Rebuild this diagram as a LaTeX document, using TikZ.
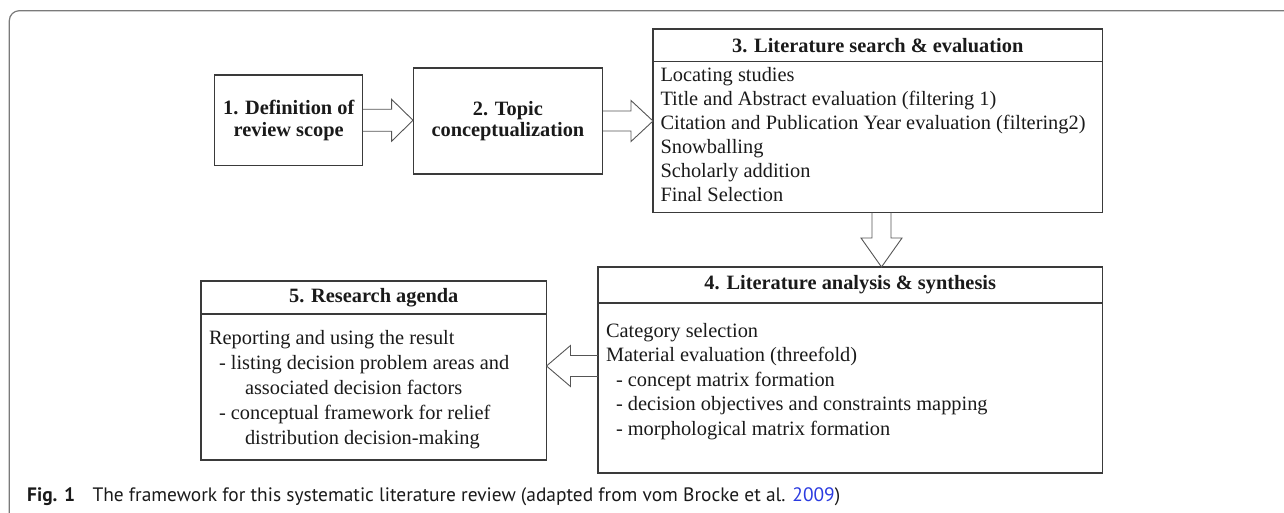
\documentclass[tikz,border=0pt]{standalone}
\usepackage{fontspec}
\setmainfont{Liberation Serif}
\newfontfamily\capfont{PT Sans}
\usetikzlibrary{calc}

\definecolor{boxline}{HTML}{3A3A3A}
\definecolor{inktext}{HTML}{1A1A1A}
\definecolor{arrowline}{HTML}{555555}
\definecolor{framegray}{HTML}{7A7A7A}
\definecolor{linkblue}{HTML}{2B3BE0}

% hollow block arrow: start, tip, shaft half-width, head half-width, head length
\newcommand\hollowarrow[5]{%
  \coordinate (ha-s) at (#1);
  \coordinate (ha-e) at (#2);
  \coordinate (ha-h) at ($(ha-e)!#5!(ha-s)$);
  \draw[blockarr] ($(ha-s)!#3!90:(ha-e)$) -- ($(ha-h)!#3!90:(ha-e)$)
    -- ($(ha-h)!#4!90:(ha-e)$) -- (ha-e) -- ($(ha-h)!#4!-90:(ha-e)$)
    -- ($(ha-h)!#3!-90:(ha-e)$) -- ($(ha-s)!#3!-90:(ha-e)$);
}

\newcommand\captionline{\textbf{Fig. 1}\hspace{0.9em}The framework for this systematic
  literature review (adapted from vom Brocke et al. \textcolor{linkblue}{2009})}
\newlength\capnat
\newlength\sernat

\begin{document}
% font sizes derived from the widths of the caption and of the longest list line
\settowidth\capnat{\capfont\fontsize{17}{20}\selectfont\captionline}
\pgfmathsetmacro\capsize{17*813/\capnat}
\settowidth\sernat{\fontsize{20}{24}\selectfont Citation and Publication Year evaluation (filtering2)}
\pgfmathsetmacro\sersize{20*425/\sernat}

\tikzset{
  box/.style={draw=boxline, line width=1.1pt, inner sep=0pt, outer sep=0pt,
    text=inktext, font=\bfseries\fontsize{\sersize}{21.5}\selectfont, align=center},
  bodytext/.style={inner sep=0pt, outer sep=0pt, anchor=north west, align=left,
    text=inktext},
  blockarr/.style={draw=arrowline, line width=0.9pt, line join=miter},
  frameline/.style={draw=framegray, line width=1.2pt},
}

\begin{tikzpicture}[x=1pt, y=-1pt]
\useasboundingbox (0,0) rectangle (1284,513);

% outer figure frame
\draw[frameline, rounded corners=10pt] (9.3,530) -- (9.3,10.7) -- (1300,10.7);

% stages 1 and 2
\node[box, minimum width=148pt, minimum height=90.6pt] (b1) at (288.7,120.3)
  {1. Definition of\\review scope};
\node[box, minimum width=189.7pt, minimum height=106pt] (b2) at (507.9,121)
  {2. Topic\\conceptualization};

% stage 3
\node[box, minimum width=449.5pt, minimum height=32.5pt] (b3head) at (877.75,45.25)
  {3. Literature search \& evaluation};
\node[box, minimum width=449.5pt, minimum height=151pt, anchor=north] (b3body) at (b3head.south) {};
\node[bodytext, font=\fontsize{\sersize}{24}\selectfont] (t3) at ($(b3body.north west)+(7.5,6.3)$)
  {Locating studies\\
   Title and Abstract evaluation (filtering 1)\\
   Citation and Publication Year evaluation (filtering2)\\
   Snowballing\\
   Scholarly addition\\
   Final Selection};

% stage 4
\node[box, minimum width=504.5pt, minimum height=36pt] (b4head) at (850.25,285)
  {4. Literature analysis \& synthesis};
\node[box, minimum width=504.5pt, minimum height=170pt, anchor=north] (b4body) at (b4head.south) {};
\node[bodytext, font=\fontsize{\sersize}{24.6}\selectfont] (t4) at ($(b4body.north west)+(8,20)$)
  {Category selection\\
   Material evaluation (threefold)\\
   \hspace*{10pt}- concept matrix formation\\
   \hspace*{10pt}- decision objectives and constraints mapping\\
   \hspace*{10pt}- morphological matrix formation};

% stage 5
\node[box, minimum width=345.5pt, minimum height=33pt] (b5head) at (373.75,297.5)
  {5. Research agenda};
\node[box, minimum width=345.5pt, minimum height=146pt, anchor=north] (b5body) at (b5head.south) {};
\node[bodytext, font=\fontsize{\sersize}{25}\selectfont] (t5) at ($(b5body.north west)+(8,16)$)
  {Reporting and using the result\\
   \hspace*{10pt}- listing decision problem areas and\\
   \hspace*{36pt}associated decision factors\\
   \hspace*{10pt}- conceptual framework for relief\\
   \hspace*{36pt}distribution decision-making};

% connectors
\coordinate (a12e) at (b1.east -| b2.west);
\hollowarrow{b1.east}{a12e}{11pt}{21pt}{21.5pt}
\coordinate (a23e) at (b2.east -| b3body.west);
\hollowarrow{b2.east}{a23e}{10pt}{20.5pt}{22pt}
\coordinate (a34s) at ($(b3body.south)+(3.75,0)$);
\coordinate (a34e) at (a34s |- b4head.north);
\hollowarrow{a34s}{a34e}{9.5pt}{20.5pt}{29pt}
\coordinate (a45s) at ($(b4body.west)+(0,-22)$);
\coordinate (a45e) at (a45s -| b5body.east);
\hollowarrow{a45s}{a45e}{10.5pt}{20.5pt}{24pt}

% caption
\node[anchor=base west, inner sep=0pt, text=inktext,
      font=\capfont\fontsize{\capsize}{20}\selectfont] (cap) at (27,501) {\captionline};
\end{tikzpicture}
\end{document}
